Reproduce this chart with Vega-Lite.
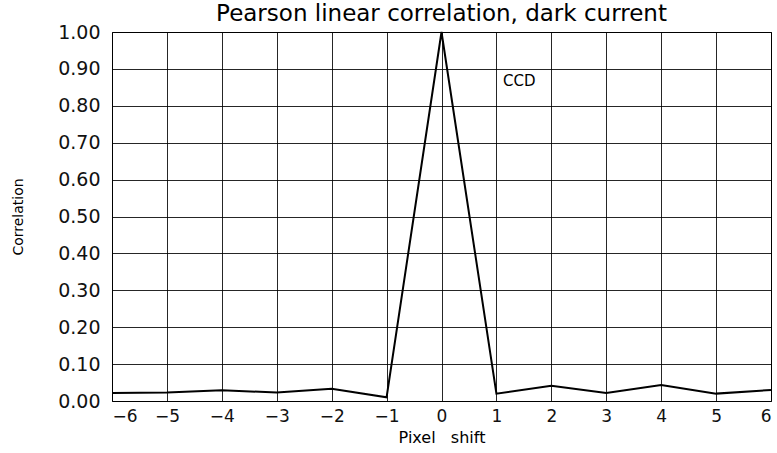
{
  "$schema": "https://vega.github.io/schema/vega-lite/v6.json",
  "width": 659,
  "height": 369,
  "autosize": "none",
  "padding": {"left": 112, "top": 32, "right": 6, "bottom": 52},
  "background": "white",
  "title": {"text": "Pearson linear correlation, dark current", "font": "DejaVu Sans", "fontSize": 23, "fontWeight": "normal", "color": "black", "offset": -3, "anchor": "middle"},
  "config": {
    "view": {"stroke": "black", "strokeWidth": 1},
    "axis": {"gridColor": "black", "gridOpacity": 0.85, "gridWidth": 1, "domain": false, "ticks": false, "labelOverlap": false, "labelFont": "DejaVu Sans", "labelFontSize": 17, "labelColor": "#111", "titleFont": "DejaVu Sans", "titleFontWeight": "normal", "titleColor": "black"}
  },
  "datasets": {
    "corr": [
      {"shift": -6, "r": 0.022},
      {"shift": -5, "r": 0.023},
      {"shift": -4, "r": 0.029},
      {"shift": -3, "r": 0.023},
      {"shift": -2, "r": 0.033},
      {"shift": -1, "r": 0.010},
      {"shift": 0, "r": 1.0},
      {"shift": 1, "r": 0.020},
      {"shift": 2, "r": 0.041},
      {"shift": 3, "r": 0.022},
      {"shift": 4, "r": 0.043},
      {"shift": 5, "r": 0.020},
      {"shift": 6, "r": 0.030}
    ],
    "lab": [{"shift": 1.12, "r": 0.866, "label": "CCD"}]
  },
  "encoding": {
    "x": {"field": "shift", "type": "quantitative", "scale": {"domain": [-6, 6], "nice": false}, "axis": {"values": [-6,-5,-4,-3,-2,-1,0,1,2,3,4,5,6], "title": "Pixel\u00a0\u00a0\u00a0shift", "titleFontSize": 16, "titlePadding": 5, "labelPadding": 7, "labelFontSize": 17, "format": "d"}},
    "y": {"field": "r", "type": "quantitative", "scale": {"domain": [0, 1], "nice": false}, "axis": {"values": [0,0.1,0.2,0.3,0.4,0.5,0.6,0.7,0.8,0.9,1.0], "tickCount": 11, "format": ".2f", "title": "Correlation", "titleFontSize": 14, "titlePadding": 32, "labelPadding": 12, "labelFontSize": 19}}
  },
  "layer": [
    {
      "data": {"name": "corr"},
      "mark": {"type": "line", "color": "black", "strokeWidth": 2}
    },
    {
      "data": {"name": "lab"},
      "mark": {"type": "text", "align": "left", "baseline": "middle", "font": "DejaVu Sans", "fontSize": 15, "color": "black"},
      "encoding": {
        "text": {"field": "label"}
      }
    }
  ]
}
